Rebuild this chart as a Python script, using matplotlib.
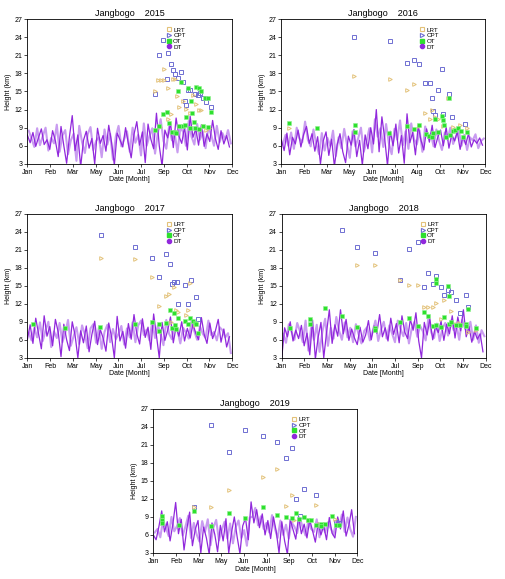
import numpy as np
import matplotlib.pyplot as plt
from matplotlib.lines import Line2D

years = [2015, 2016, 2017, 2018, 2019]

month_labels = {
    2015: ['Jan', 'Feb', 'Mar', 'May', 'Jun', 'Jul', 'Sep', 'Oct', 'Nov', 'Dec'],
    2016: ['Jan', 'Feb', 'Mar', 'May', 'Jun', 'Jul', 'Aug', 'Oct', 'Nov', 'Dec'],
    2017: ['Jan', 'Feb', 'Mar', 'May', 'Jun', 'Jul', 'Sep', 'Oct', 'Nov', 'Dec'],
    2018: ['Jan', 'Feb', 'Mar', 'May', 'Jun', 'Jul', 'Sep', 'Oct', 'Nov', 'Dec'],
    2019: ['Jan', 'Feb', 'Mar', 'May', 'Jun', 'Jul', 'Sep', 'Oct', 'Nov', 'Dec'],
}

# DT: two soundings series per year, every 5 days (second one offset by 2.5 days)
dt_dark = {
    2015: [7.8, 6.5, 8.2, 5.9, 7.4, 8.8, 6.2, 7.0, 5.4, 8.5, 6.8, 4.2, 9.2, 6.0, 3.1, 7.5, 11.0, 5.2, 7.8, 2.5,
           6.9, 8.4, 5.6, 7.2, 3.0, 8.9, 6.4, 7.7, 5.1, 9.4, 6.6, 2.8, 8.1, 7.0, 5.8, 9.0, 6.3, 4.0, 7.9, 10.0,
           6.1, 8.3, 3.2, 9.6, 7.1, 5.5, 11.4, 6.0, 2.6, 8.6, 7.3, 9.8, 5.7, 10.6, 7.6, 6.4, 9.1, 5.3, 10.9, 7.4,
           8.8, 6.1, 9.5, 5.9, 8.0, 6.7, 10.2, 7.2, 5.4, 8.5, 6.3, 7.7, 5.8],
    2016: [7.0, 5.2, 8.1, 4.5, 7.4, 6.3, 8.6, 5.8, 7.9, 9.2, 6.4, 8.0, 5.1, 7.5, 3.0, 6.8, 8.3, 4.4, 7.1, 2.6,
           6.2, 8.0, 5.0, 3.2, 7.6, 6.1, 8.7, 4.2, 6.9, 2.8, 7.8, 5.5, 9.0, 6.3, 12.0, 5.0, 10.8, 7.2, 2.7, 8.4,
           6.0, 9.6, 4.8, 7.7, 3.1, 11.3, 6.5, 8.2, 4.5, 9.3, 6.9, 5.3, 8.8, 6.6, 9.4, 5.7, 7.4, 8.6, 6.0, 9.1,
           5.6, 7.9, 6.8, 8.3, 5.4, 7.6, 6.2, 8.0, 5.8, 7.0, 6.4, 7.3, 6.1],
    2017: [6.0, 8.5, 5.4, 9.6, 7.0, 4.5, 10.0, 6.6, 8.2, 5.0, 9.4, 7.3, 3.2, 8.6, 6.0, 4.2, 9.0, 6.8, 3.0, 7.5,
           5.5, 8.3, 4.0, 6.9, 9.1, 5.2, 7.7, 6.3, 4.1, 8.8, 6.5, 3.0, 9.9, 5.8, 7.4, 4.6, 8.7, 6.1, 10.2, 7.0,
           5.3, 9.5, 6.4, 8.1, 4.4, 10.3, 6.7, 3.0, 8.9, 5.9, 7.6, 9.8, 5.5, 8.2, 6.6, 9.0, 5.8, 7.9, 6.3, 8.6,
           7.1, 6.0, 9.7, 6.9, 5.4, 8.8, 6.2, 7.5, 9.4, 5.6, 7.8, 4.8, 6.5],
    2018: [3.2, 8.0, 6.5, 9.0, 5.8, 7.6, 6.2, 8.4, 5.0, 7.1, 3.5, 9.3, 2.8, 6.4, 8.9, 3.0, 7.2, 11.0, 5.4, 8.5,
           6.6, 11.0, 7.0, 9.4, 5.9, 7.8, 6.3, 5.2, 8.1, 5.6, 6.8, 9.2, 6.0, 8.3, 7.1, 10.2, 6.5, 8.0, 5.8, 9.6,
           6.9, 8.7, 5.5, 10.0, 7.3, 6.2, 9.4, 7.6, 10.5, 5.8, 3.0, 8.9, 6.8, 9.5, 6.0, 8.3, 7.2, 9.1, 5.9, 8.6,
           7.0, 10.0, 6.3, 9.8, 7.5, 11.0, 6.5, 8.2, 5.6, 7.4, 6.1, 7.0, 4.0],
    2019: [6.0, 5.2, 7.4, 10.0, 6.5, 8.2, 5.0, 7.8, 11.4, 6.2, 8.6, 3.5, 7.0, 9.8, 4.2, 6.9, 8.4, 3.0, 7.3, 5.5,
           2.8, 8.0, 6.1, 3.2, 7.6, 5.0, 8.7, 3.0, 6.4, 9.0, 5.7, 2.9, 7.5, 8.8, 5.2, 11.5, 8.0, 10.2, 7.2, 9.5,
           6.0, 8.4, 5.4, 9.0, 6.6, 3.0, 8.2, 5.0, 2.8, 8.6, 6.9, 5.3, 9.1, 6.2, 7.8, 5.5, 8.5, 6.7, 4.8, 8.0,
           6.0, 7.5, 5.2, 8.9, 6.3, 5.5, 9.0, 7.0, 10.0, 5.8, 7.6, 10.2, 6.2],
}
dt_light = {
    2015: [8.5, 7.2, 5.8, 8.9, 6.1, 7.6, 9.0, 5.2, 7.3, 6.4, 9.5, 5.0, 7.7, 8.6, 4.6, 6.9, 8.0, 3.5, 9.3, 6.6,
           4.8, 7.9, 9.1, 5.3, 6.8, 7.4, 4.1, 8.7, 6.2, 8.0, 3.7, 7.5, 9.3, 5.9, 7.1, 8.4, 5.0, 9.0, 6.5, 7.8,
           4.4, 9.7, 6.0, 7.6, 8.9, 4.7, 8.2, 10.4, 6.8, 5.5, 9.2, 6.9, 8.0, 4.9, 9.0, 8.3, 6.0, 10.1, 7.5, 6.2,
           9.6, 7.0, 8.4, 5.6, 9.1, 7.8, 6.0, 9.3, 6.6, 8.1, 7.0, 8.6, 6.4],
    2016: [6.2, 7.8, 6.0, 8.2, 5.5, 9.0, 7.2, 6.6, 10.0, 7.0, 5.9, 8.7, 6.3, 4.6, 8.1, 5.2, 7.3, 6.0, 8.5, 4.3,
           7.4, 5.6, 8.8, 6.2, 4.0, 8.4, 5.9, 7.2, 9.0, 5.0, 6.7, 8.9, 4.9, 10.4, 7.5, 8.9, 5.8, 9.6, 6.4, 4.6,
           8.8, 7.0, 10.2, 6.1, 8.4, 5.5, 9.7, 7.1, 6.2, 8.5, 5.0, 9.2, 7.3, 8.0, 5.9, 8.7, 6.8, 5.3, 8.2, 7.0,
           9.0, 6.3, 7.5, 8.6, 6.0, 7.8, 5.3, 7.4, 6.9, 7.9, 5.6, 6.8, 7.2],
    2017: [7.2, 5.9, 8.0, 6.4, 8.9, 5.8, 7.6, 9.0, 4.8, 7.4, 6.3, 8.8, 5.6, 7.1, 9.3, 5.0, 6.6, 8.1, 5.3, 8.4,
           6.9, 4.6, 7.9, 8.6, 5.5, 8.0, 4.5, 7.3, 8.5, 5.6, 7.8, 6.1, 7.0, 8.3, 5.2, 7.9, 6.4, 8.9, 5.6, 8.4,
           9.2, 6.8, 7.7, 5.9, 9.0, 6.3, 8.4, 6.9, 5.1, 9.3, 7.0, 6.1, 8.6, 7.5, 5.4, 8.0, 7.2, 6.2, 9.1, 7.4,
           6.0, 8.2, 7.0, 6.3, 9.2, 6.8, 7.3, 5.9, 8.1, 7.6, 6.4, 7.1, 3.8],
    2018: [7.0, 5.5, 8.6, 7.3, 6.0, 8.8, 7.4, 5.6, 9.2, 4.2, 8.0, 6.0, 8.5, 4.0, 7.3, 9.5, 5.0, 8.0, 6.2, 9.8,
           7.5, 6.0, 8.9, 6.4, 8.0, 5.6, 8.6, 6.9, 5.4, 7.5, 8.1, 5.9, 7.4, 9.2, 5.8, 7.7, 9.0, 6.2, 8.4, 7.0,
           5.6, 9.2, 7.8, 6.6, 8.8, 5.4, 7.9, 9.0, 6.5, 8.3, 7.4, 5.9, 9.8, 7.2, 6.3, 8.7, 5.8, 7.9, 8.8, 6.7,
           9.2, 7.6, 8.5, 6.0, 9.3, 8.0, 7.1, 9.0, 6.0, 8.4, 5.5, 7.6, 6.6],
    2019: [6.4, 7.0, 5.6, 8.5, 7.2, 5.8, 9.0, 6.6, 7.5, 8.8, 5.9, 7.4, 9.2, 5.5, 8.0, 6.1, 4.9, 8.3, 6.5, 8.6,
           4.3, 7.2, 8.5, 5.1, 6.8, 8.2, 5.4, 7.9, 4.6, 7.3, 8.4, 5.5, 6.8, 4.2, 8.9, 9.0, 10.5, 7.6, 9.1, 7.0,
           8.0, 6.4, 9.3, 7.1, 5.5, 8.4, 6.0, 7.7, 5.4, 8.1, 7.4, 6.3, 8.8, 7.2, 5.9, 8.3, 7.0, 6.5, 8.6, 5.6,
           7.8, 6.4, 8.1, 7.1, 6.0, 8.4, 7.3, 9.4, 6.5, 8.9, 7.0, 5.7, 9.0],
}

# CPT (blue squares): day of year, height km
cpt_day = {
    2015: [227, 234, 241, 251, 248, 256, 260, 263, 268, 273, 277, 280, 283, 286, 290, 298, 304, 308, 313, 319, 328],
    2016: [130, 194, 225, 238, 247, 258, 266, 269, 272, 275, 280, 288, 290, 300, 306, 329],
    2017: [131, 192, 222, 234, 247, 254, 257, 262, 266, 269, 281, 286, 291, 300, 304],
    2018: [108, 135, 166, 228, 244, 211, 254, 262, 271, 276, 284, 290, 298, 303, 311, 318, 329, 333],
    2019: [73, 103, 135, 164, 196, 222, 237, 249, 255, 270, 262, 292, 327, 332],
}
cpt_h = {
    2015: [14.6, 21.1, 23.5, 21.3, 17.0, 19.5, 18.6, 17.9, 17.3, 18.2, 16.6, 13.4, 12.7, 15.2, 15.3, 14.6, 14.4,
           14.7, 14.0, 13.3, 12.4],
    2016: [24.0, 23.4, 19.8, 20.3, 19.6, 16.4, 16.4, 13.9, 11.8, 11.1, 15.3, 18.7, 11.2, 14.6, 10.7, 9.6],
    2017: [23.5, 21.4, 19.6, 16.5, 20.3, 18.6, 15.3, 15.7, 15.7, 11.9, 15.2, 11.9, 16.0, 13.2, 9.5],
    2018: [24.2, 21.4, 20.4, 21.1, 22.3, 15.9, 14.8, 17.2, 15.3, 16.7, 14.8, 13.4, 14.3, 13.9, 12.7, 10.4, 13.4,
           11.5],
    2019: [10.7, 24.3, 19.8, 23.5, 22.4, 21.4, 18.8, 20.5, 12.0, 13.7, 9.1, 12.6, 8.2, 8.0],
}

# LRT (tan triangles)
lrt_day = {
    2015: [227, 232, 238, 243, 244, 250, 256, 259, 263, 266, 271, 277, 282, 290, 295, 301, 305, 309, 313, 319,
           324, 250, 237],
    2016: [13, 130, 194, 225, 238, 247, 258, 266, 270, 275, 281, 290, 299, 308, 320, 332],
    2017: [131, 192, 222, 234, 247, 253, 261, 265, 269, 256, 283, 286, 290, 298, 301],
    2018: [135, 166, 211, 228, 244, 254, 262, 270, 276, 284, 290, 303, 311, 317, 333, 347],
    2019: [16, 73, 103, 135, 196, 222, 237, 249, 252, 277, 292, 297, 307, 326],
}
lrt_h = {
    2015: [15.0, 16.9, 16.9, 16.9, 18.7, 15.6, 11.2, 17.0, 17.0, 14.3, 12.4, 13.4, 12.1, 11.4, 14.4, 12.9, 11.9,
           11.9, 9.2, 8.6, 9.0, 10.5, 9.1],
    2016: [9.0, 17.6, 17.1, 15.2, 16.3, 9.2, 11.5, 10.5, 11.9, 10.8, 10.5, 9.3, 13.9, 9.1, 9.4, 9.0],
    2017: [19.7, 19.4, 16.5, 11.6, 13.3, 13.6, 14.8, 11.0, 10.6, 9.0, 10.1, 10.9, 15.4, 8.4, 8.8],
    2018: [18.4, 18.4, 15.9, 15.1, 15.1, 11.4, 11.4, 11.4, 12.2, 9.5, 12.7, 10.8, 8.7, 8.8, 7.3, 7.6],
    2019: [9.0, 10.6, 10.6, 13.5, 15.6, 16.9, 10.8, 12.6, 8.5, 8.5, 11.0, 7.9, 7.9, 8.6],
}

# OT (green)
ot_day = {
    2015: [227, 234, 241, 248, 253, 257, 263, 265, 269, 274, 271, 277, 280, 283, 287, 289, 291, 293, 297, 301,
           305, 309, 316, 321, 327, 313, 298, 306, 321],
    2016: [13, 64, 131, 131, 193, 225, 238, 247, 259, 265, 269, 272, 275, 280, 288, 290, 291, 294, 300, 302,
           308, 311, 317, 322, 326, 332],
    2017: [10, 67, 130, 192, 222, 234, 235, 247, 254, 257, 261, 263, 264, 269, 281, 286, 290, 295, 298, 301, 304],
    2018: [15, 51, 51, 78, 108, 135, 166, 166, 211, 228, 244, 254, 262, 270, 276, 276, 276, 284, 290, 298, 299,
           299, 303, 311, 318, 329, 329, 333, 347],
    2019: [16, 16, 16, 46, 73, 103, 135, 164, 196, 222, 237, 249, 255, 261, 270, 277, 282, 292, 300, 301, 307,
           320, 327, 332],
}
ot_h = {
    2015: [8.6, 9.3, 11.2, 11.6, 9.7, 8.3, 8.3, 8.1, 15.1, 16.6, 9.2, 9.2, 9.5, 10.8, 15.5, 9.0, 13.5, 11.5, 9.9,
           15.8, 15.5, 15.0, 14.0, 14.0, 11.6, 9.2, 9.0, 8.7, 9.1],
    2016: [9.7, 8.9, 9.4, 8.3, 8.1, 9.2, 8.8, 9.4, 7.9, 7.7, 7.4, 8.1, 10.5, 8.2, 10.9, 10.3, 9.5, 7.4, 13.9,
           7.8, 8.5, 8.6, 9.0, 8.5, 7.4, 8.3],
    2017: [8.6, 7.9, 8.1, 8.7, 8.9, 8.7, 7.5, 8.8, 10.9, 7.9, 10.4, 8.4, 7.8, 9.6, 9.1, 8.7, 9.6, 9.1, 8.8, 8.6,
           7.2],
    2018: [7.9, 9.5, 8.6, 11.3, 10.0, 8.1, 7.9, 7.6, 8.9, 9.6, 8.3, 10.7, 9.9, 8.3, 8.4, 16.2, 15.4, 8.1, 9.8,
           15.0, 13.3, 8.7, 8.9, 8.5, 8.5, 8.7, 8.3, 11.2, 7.9],
    2019: [9.2, 8.5, 8.0, 7.7, 9.9, 7.5, 9.7, 8.9, 10.7, 9.3, 9.0, 8.9, 9.6, 8.7, 9.0, 8.5, 8.5, 7.7, 7.9, 7.5,
           7.9, 9.1, 7.7, 7.6],
}

c_dark = '#9128dc'
c_light = '#c99cf0'
c_cpt = '#6f6fd2'
c_lrt = '#e3c27a'
c_ot = '#2ee02e'

plt.rcParams['font.family'] = ['Liberation Sans', 'DejaVu Sans']

fig = plt.figure(figsize=(5.06, 5.79), dpi=100)
positions = {
    2015: [0.054, 0.717, 0.405, 0.250],
    2016: [0.556, 0.717, 0.403, 0.250],
    2017: [0.054, 0.382, 0.405, 0.249],
    2018: [0.557, 0.382, 0.403, 0.249],
    2019: [0.303, 0.045, 0.403, 0.249],
}

for yr in years:
    ax = fig.add_axes(positions[yr])
    xl = np.arange(len(dt_light[yr])) * 5 + 2.5
    xd = np.arange(len(dt_dark[yr])) * 5
    ax.plot(xl, dt_light[yr], color=c_light, lw=1.5, zorder=1)
    ax.plot(xd, dt_dark[yr], color=c_dark, lw=0.9, zorder=2)
    ax.plot(cpt_day[yr], cpt_h[yr], ls='none', marker='s', ms=2.7, mfc='none',
            mec=c_cpt, mew=0.7, zorder=3)
    ax.plot(lrt_day[yr], lrt_h[yr], ls='none', marker='>', ms=2.6, mfc='none',
            mec=c_lrt, mew=0.7, zorder=3)
    ax.plot(ot_day[yr], ot_h[yr], ls='none', marker='s', ms=2.5, mfc=c_ot,
            mec='#8ef08e', mew=0.4, zorder=4)

    ax.set_xlim(0, 365)
    ax.set_ylim(3, 27)
    ax.set_yticks(np.arange(3, 28, 3))
    ax.set_xticks(np.linspace(0, 365, 10))
    ax.set_xticklabels(month_labels[yr])
    ax.tick_params(labelsize=5, length=2, width=0.5, pad=1.5)
    for s in ax.spines.values():
        s.set_linewidth(0.6)
    ax.set_title('Jangbogo    %d' % yr, fontsize=6.5, pad=2)
    ax.set_xlabel('Date [Month]', fontsize=5, labelpad=0.5)
    ax.set_ylabel('Height (km)', fontsize=5, labelpad=2)

    handles = [
        Line2D([], [], ls='none', marker='s', ms=3, mfc='none', mec=c_lrt, mew=0.8),
        Line2D([], [], ls='none', marker='>', ms=3, mfc='none', mec=c_cpt, mew=0.8),
        Line2D([], [], ls='none', marker='s', ms=3, mfc=c_ot, mec=c_ot),
        Line2D([], [], ls='none', marker='o', ms=3, mfc=c_dark, mec=c_dark),
    ]
    ax.legend(handles, ['LRT', 'CPT', 'OT', 'DT'], loc='upper left',
              bbox_to_anchor=(0.66, 0.97), frameon=False, fontsize=4.5,
              handlelength=0.8, handletextpad=0.3, labelspacing=0.05,
              borderpad=0.1)

fig.savefig('out.png', dpi=100)
